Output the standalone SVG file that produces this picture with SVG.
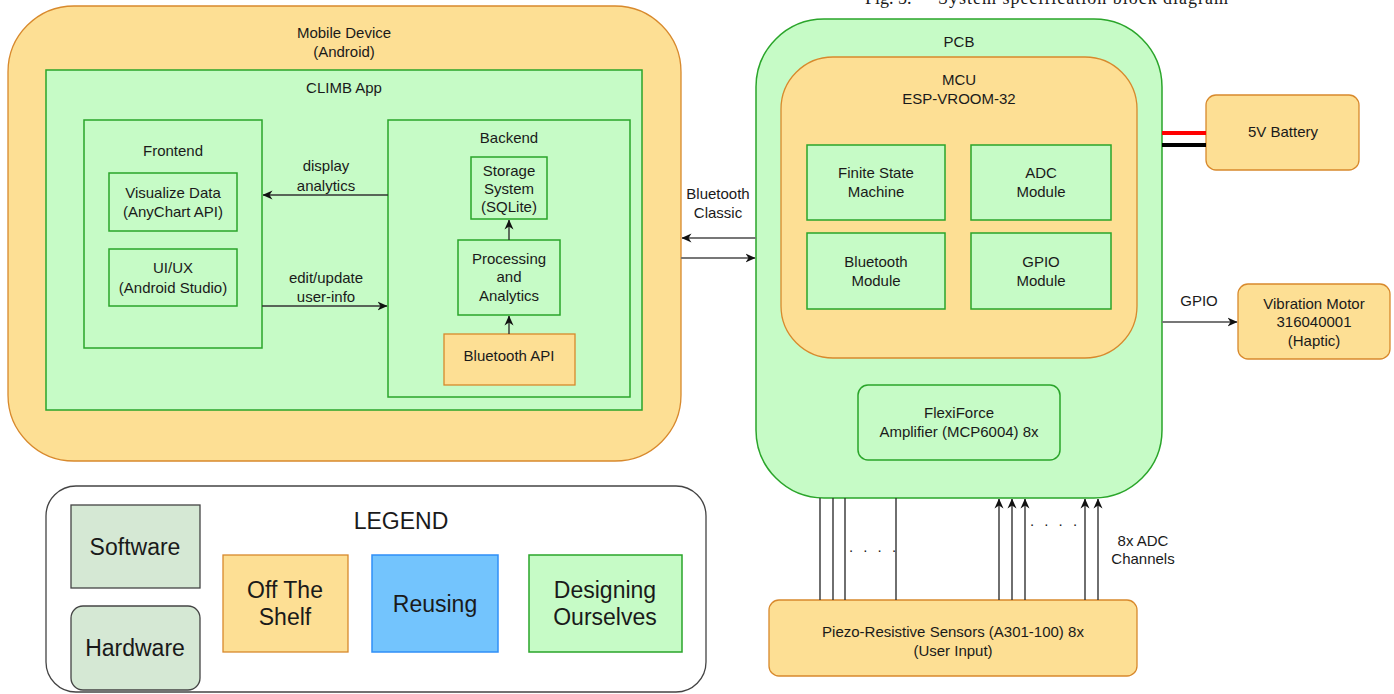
<svg xmlns="http://www.w3.org/2000/svg" width="1394" height="694" viewBox="0 0 1394 694">
<style>
text{font-family:"Liberation Sans",Arial,sans-serif;font-size:15px;fill:#1a1a1a;text-anchor:middle}
.lg{font-size:23px}
.orange{fill:#fddf94;stroke:#d8892c;stroke-width:1.3}
.green{fill:#c6fbc6;stroke:#2aa52a;stroke-width:1.5}
.blue{fill:#73c4fd;stroke:#2f8ff7;stroke-width:1.5}
.sw{fill:#d5e8d4;stroke:#444;stroke-width:1.3}
.ln{stroke:#333;stroke-width:1.4;fill:none}
.gl{stroke:#777;stroke-width:2;fill:none}
</style>
<defs>
<marker id="arr" viewBox="0 0 10 10" refX="9.5" refY="5" markerWidth="10" markerHeight="10" markerUnits="userSpaceOnUse" orient="auto">
<path d="M0,0.5 L10,5 L0,9.5 L3,5 z" fill="#111"/>
</marker>
</defs>
<text x="865" y="4" style="font-family:'Liberation Serif','Times New Roman',serif;font-size:18px;text-anchor:start">Fig. 5.</text>
<text x="938" y="4" textLength="290" style="font-family:'Liberation Serif','Times New Roman',serif;font-size:18px;text-anchor:start">System specification block diagram</text>

<g id="mobile-device">
<rect class="orange" x="8" y="6" width="673" height="455" rx="66"/>
<text x="344" y="38">Mobile Device</text>
<text x="344" y="57">(Android)</text>
</g>
<g id="climb-app">
<rect class="green" x="46" y="70" width="596" height="340"/>
<text x="344" y="93">CLIMB App</text>
</g>
<g id="frontend">
<rect class="green" x="84" y="120" width="178" height="228"/>
<text x="173" y="156">Frontend</text>
</g>
<g id="visualize-data">
<rect class="green" x="109" y="173" width="128" height="58"/>
<text x="173" y="198">Visualize Data</text>
<text x="173" y="217">(AnyChart API)</text>
</g>
<g id="uiux">
<rect class="green" x="109" y="249" width="128" height="57"/>
<text x="173" y="273">UI/UX</text>
<text x="173" y="293">(Android Studio)</text>
</g>
<g id="backend">
<rect class="green" x="388" y="120" width="242" height="277"/>
<text x="509" y="143">Backend</text>
</g>
<g id="storage">
<rect class="green" x="471" y="157" width="76" height="62"/>
<text x="509" y="176">Storage</text>
<text x="509" y="194">System</text>
<text x="509" y="212">(SQLite)</text>
</g>
<g id="processing">
<rect class="green" x="458" y="240" width="102" height="75"/>
<text x="509" y="264">Processing</text>
<text x="509" y="282">and</text>
<text x="509" y="301">Analytics</text>
</g>
<g id="bluetooth-api">
<rect class="orange" x="444" y="334" width="131" height="51"/>
<text x="509" y="361">Bluetooth API</text>
</g>

<g id="pcb">
<rect class="green" x="756" y="19" width="406" height="479" rx="68"/>
<text x="959" y="47">PCB</text>
</g>
<g id="mcu">
<rect class="orange" x="781" y="57" width="356" height="301" rx="52"/>
<text x="959" y="85">MCU</text>
<text x="959" y="104">ESP-VROOM-32</text>
</g>
<g id="fsm">
<rect class="green" x="807" y="145" width="138" height="75"/>
<text x="876" y="178">Finite State</text>
<text x="876" y="197">Machine</text>
</g>
<g id="adc">
<rect class="green" x="971" y="145" width="140" height="75"/>
<text x="1041" y="178">ADC</text>
<text x="1041" y="197">Module</text>
</g>
<g id="bt-module">
<rect class="green" x="807" y="233" width="138" height="76"/>
<text x="876" y="267">Bluetooth</text>
<text x="876" y="286">Module</text>
</g>
<g id="gpio-module">
<rect class="green" x="971" y="233" width="140" height="76"/>
<text x="1041" y="267">GPIO</text>
<text x="1041" y="286">Module</text>
</g>
<g id="flexiforce">
<rect class="green" x="858" y="385" width="202" height="75" rx="10"/>
<text x="959" y="418">FlexiForce</text>
<text x="959" y="437">Amplifier (MCP6004) 8x</text>
</g>
<g id="battery">
<rect class="orange" x="1206" y="95" width="153" height="75" rx="10"/>
<text x="1283" y="137">5V Battery</text>
</g>
<g id="motor">
<rect class="orange" x="1238" y="284" width="152" height="75" rx="10"/>
<text x="1314" y="309">Vibration Motor</text>
<text x="1314" y="327">316040001</text>
<text x="1314" y="346">(Haptic)</text>
</g>
<g id="sensors">
<rect class="orange" x="769" y="600" width="368" height="76" rx="10"/>
<text x="953" y="637">Piezo-Resistive Sensors (A301-100) 8x</text>
<text x="953" y="656">(User Input)</text>
</g>

<g id="connectors">
<line class="ln" x1="388" y1="195" x2="263" y2="195" marker-end="url(#arr)"/>
<text x="326" y="171">display</text>
<text x="326" y="191">analytics</text>
<line class="ln" x1="262" y1="306" x2="387" y2="306" marker-end="url(#arr)"/>
<text x="326" y="283">edit/update</text>
<text x="326" y="302">user-info</text>
<line class="ln" x1="509" y1="240" x2="509" y2="220" marker-end="url(#arr)"/>
<line class="ln" x1="509" y1="334" x2="509" y2="316" marker-end="url(#arr)"/>
<line class="gl" x1="756" y1="238" x2="682" y2="238" marker-end="url(#arr)"/>
<line class="gl" x1="681" y1="258" x2="755" y2="258" marker-end="url(#arr)"/>
<text x="718" y="199">Bluetooth</text>
<text x="718" y="218">Classic</text>
<line x1="1162" y1="133" x2="1206" y2="133" stroke="#ff0000" stroke-width="4"/>
<line x1="1162" y1="145" x2="1206" y2="145" stroke="#000" stroke-width="4"/>
<line class="gl" x1="1162" y1="322" x2="1237" y2="322" marker-end="url(#arr)"/>
<text x="1199" y="306">GPIO</text>
<line class="ln" x1="820" y1="498" x2="820" y2="600"/>
<line class="ln" x1="833" y1="498" x2="833" y2="600"/>
<line class="ln" x1="845" y1="498" x2="845" y2="600"/>
<line class="ln" x1="896" y1="498" x2="896" y2="600"/>
<text x="874" y="552" style="letter-spacing:3px">. . . .</text>
<line class="ln" x1="999" y1="600" x2="999" y2="499" marker-end="url(#arr)"/>
<line class="ln" x1="1012" y1="600" x2="1012" y2="499" marker-end="url(#arr)"/>
<line class="ln" x1="1025" y1="600" x2="1025" y2="499" marker-end="url(#arr)"/>
<line class="ln" x1="1085" y1="600" x2="1085" y2="499" marker-end="url(#arr)"/>
<line class="ln" x1="1098" y1="600" x2="1098" y2="499" marker-end="url(#arr)"/>
<text x="1055" y="526" style="letter-spacing:3px">. . . .</text>
<text x="1143" y="546">8x ADC</text>
<text x="1143" y="564">Channels</text>
</g>

<g id="legend">
<rect x="46" y="486" width="660" height="206" rx="30" fill="#fff" stroke="#444" stroke-width="1.3"/>
<text class="lg" x="401" y="529">LEGEND</text>
</g>
<g id="legend-software">
<rect class="sw" x="71" y="505" width="129" height="83"/>
<text class="lg" x="135" y="555">Software</text>
</g>
<g id="legend-hardware">
<rect class="sw" x="71" y="606" width="129" height="84" rx="12"/>
<text class="lg" x="135" y="656">Hardware</text>
</g>
<g id="legend-offshelf">
<rect class="orange" x="223" y="555" width="125" height="97"/>
<text class="lg" x="285" y="598">Off The</text>
<text class="lg" x="285" y="625">Shelf</text>
</g>
<g id="legend-reusing">
<rect class="blue" x="372" y="555" width="126" height="97"/>
<text class="lg" x="435" y="612">Reusing</text>
</g>
<g id="legend-designing">
<rect class="green" x="529" y="555" width="153" height="97"/>
<text class="lg" x="605" y="598">Designing</text>
<text class="lg" x="605" y="625">Ourselves</text>
</g>
</svg>
